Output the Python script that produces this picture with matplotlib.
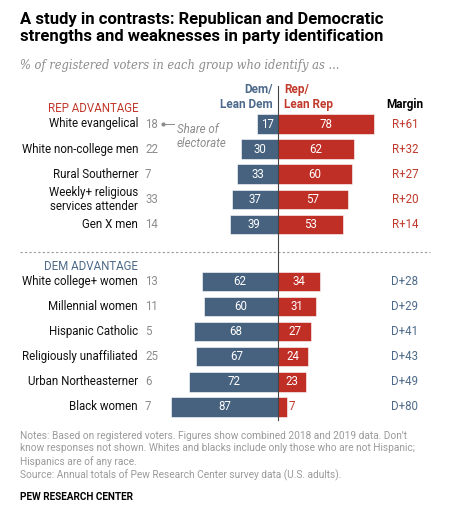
import numpy as np
import matplotlib.pyplot as plt

# data
rep_groups = ["White evangelical", "White non-college men", "Rural Southerner",
              "Weekly+ religious\nservices attender", "Gen X men"]
rep_share = [18, 22, 7, 33, 14]
rep_dem = [17, 30, 33, 37, 39]
rep_rep = [78, 62, 60, 57, 53]
rep_margin = ["R+61", "R+32", "R+27", "R+20", "R+14"]

dem_groups = ["White college+ women", "Millennial women", "Hispanic Catholic",
              "Religiously unaffiliated", "Urban Northeasterner", "Black women"]
dem_share = [13, 11, 5, 25, 6, 7]
dem_dem = [62, 60, 68, 67, 72, 87]
dem_rep = [34, 31, 27, 24, 23, 7]
dem_margin = ["D+28", "D+29", "D+41", "D+43", "D+49", "D+80"]

BLUE = "#46627f"
RED = "#bf2f26"
RED_TXT = "#c0392b"
BLUE_TXT = "#4d6a8a"
GRAY = "#8c8c8c"

plt.rcParams["font.family"] = ["Roboto", "DejaVu Sans"]

W, H = 469, 516
fig = plt.figure(figsize=(W / 100, H / 100), dpi=100)
fig.patch.set_facecolor("white")
ax = fig.add_axes([0, 0, 1, 1])
ax.axis("off")

px_per_unit = 1.23
x0 = 278
row_px = 25.1
y0 = 124
ax.set_xlim(-x0 / px_per_unit, (W - x0) / px_per_unit)
ax.set_ylim((H - y0) / row_px, -y0 / row_px)


def px_to_x(px):
    return (px - x0) / px_per_unit


def px_to_y(py):
    return (py - y0) / row_px


rep_y = np.arange(len(rep_groups))
dem_y = np.arange(len(dem_groups)) + 6.27
bh = 0.78
fs = 8.3


def draw_block(ys, groups, share, dem, rep, margin, mcolor):
    ax.barh(ys, [-d for d in dem], height=bh, color=BLUE, edgecolor="white", lw=0.4, zorder=2)
    ax.barh(ys, rep, height=bh, color=RED, edgecolor="white", lw=0.4, zorder=2)
    for y, g, s, d, r, m in zip(ys, groups, share, dem, rep, margin):
        ax.text(px_to_x(138), y, g, ha="right", va="center", fontsize=fs,
                color="#111111", linespacing=1.05)
        ax.text(px_to_x(145), y, str(s), ha="left", va="center", fontsize=fs, color=GRAY)
        ax.text(-d / 2, y, str(d), ha="center", va="center", fontsize=fs, color="white", zorder=3)
        if r >= 12:
            ax.text(r / 2, y, str(r), ha="center", va="center", fontsize=fs, color="white", zorder=3)
        else:
            ax.text(r + 1.5, y, str(r), ha="left", va="center", fontsize=fs, color=RED_TXT, zorder=3)
        ax.text(px_to_x(405), y, m, ha="center", va="center", fontsize=fs, color=mcolor)


draw_block(rep_y, rep_groups, rep_share, rep_dem, rep_rep, rep_margin, RED_TXT)
draw_block(dem_y, dem_groups, dem_share, dem_dem, dem_rep, dem_margin, BLUE_TXT)

# center line
ax.plot([0, 0], [px_to_y(86), px_to_y(420)], color="#444444", lw=0.8, zorder=4)

# dashed separator
ax.plot([px_to_x(20), px_to_x(430)], [px_to_y(252)] * 2, color="#999999",
        lw=0.8, ls=(0, (2, 2)))

# section labels
ax.text(px_to_x(138), px_to_y(109), "REP ADVANTAGE", ha="right", va="center",
        fontsize=fs, color=RED_TXT)
ax.text(px_to_x(138), px_to_y(266), "DEM ADVANTAGE", ha="right", va="center",
        fontsize=fs, color=BLUE_TXT)

# column headers
ax.text(px_to_x(273), px_to_y(111), "Dem/\nLean Dem", ha="right", va="bottom",
        fontsize=fs + 0.2, color=BLUE_TXT, fontweight="bold", linespacing=1.15)
ax.text(px_to_x(284), px_to_y(111), "Rep/\nLean Rep", ha="left", va="bottom",
        fontsize=fs + 0.2, color=RED_TXT, fontweight="bold", linespacing=1.15)
ax.text(px_to_x(405), px_to_y(111), "Margin", ha="center", va="bottom",
        fontsize=fs + 0.2, color="black", fontweight="bold")

# share of electorate annotation
ax.plot([px_to_x(163)], [0], marker="o", ms=2, color=GRAY)
ax.plot([px_to_x(163), px_to_x(174)], [0, 0], color=GRAY, lw=0.7)
ax.text(px_to_x(177), 0.5, "Share of\nelectorate", ha="left", va="center",
        fontsize=fs, color=GRAY, style="italic", linespacing=1.05)

# titles
fig.text(20 / W, 1 - 12 / H, "A study in contrasts: Republican and Democratic\n"
         "strengths and weaknesses in party identification",
         ha="left", va="top", fontsize=12, fontweight="bold", color="black",
         linespacing=1.2)
fig.text(20 / W, 1 - 65 / H, "% of registered voters in each group who identify as ...",
         ha="left", va="center", fontsize=8.3, style="italic", color=GRAY,
         family="DejaVu Serif")

notes = ("Notes: Based on registered voters. Figures show combined 2018 and 2019 data. Don't\n"
         "know responses not shown. Whites and blacks include only those who are not Hispanic;\n"
         "Hispanics are of any race.\n"
         "Source: Annual totals of Pew Research Center survey data (U.S. adults).")
fig.text(20 / W, 1 - 431 / H, notes, ha="left", va="top", fontsize=7.3,
         color="#9a9a9a", linespacing=1.3)
fig.text(20 / W, 1 - 497 / H, "PEW RESEARCH CENTER", ha="left", va="center",
         fontsize=7.2, fontweight="bold", color="black")

fig.savefig("out.png", dpi=100)
